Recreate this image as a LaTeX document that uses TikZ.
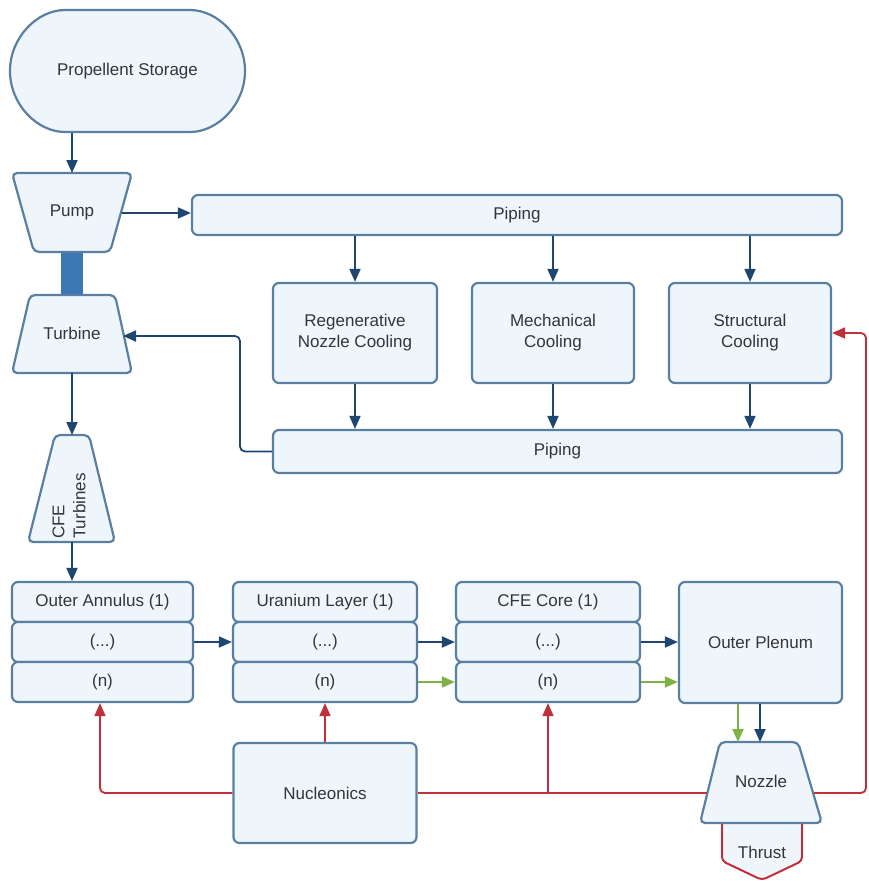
\documentclass[tikz,border=0pt]{standalone}
\usepackage{fontspec}
\setmainfont{Liberation Sans}
\usetikzlibrary{arrows.meta,calc,shapes.misc}
\definecolor{boxfill}{HTML}{EEF6FC}
\definecolor{boxline}{HTML}{5B7FA0}
\definecolor{arrblue}{HTML}{1F4670}
\definecolor{arrred}{HTML}{C0303A}
\definecolor{arrgreen}{HTML}{7DB343}
\definecolor{shaftc}{HTML}{3B78B5}
\definecolor{txt}{HTML}{353535}
\begin{document}
\begin{tikzpicture}[x=1pt,y=-1pt,
  lbl/.style={text=txt,font=\fontsize{17}{21}\selectfont,align=center,inner sep=0pt},
  box/.style={lbl,draw=boxline,fill=boxfill,line width=2.2pt,rounded corners=6pt},
  shapebox/.style={draw=boxline,fill=boxfill,line width=2.2pt,rounded corners=5pt},
  tip/.style={-{Triangle[length=13pt,width=11pt]}},
  arr/.style={draw=arrblue,line width=1.8pt,tip},
  garr/.style={draw=arrgreen,line width=1.8pt,tip},
  rarr/.style={draw=arrred,line width=1.8pt,rounded corners=5pt,tip},
  rline/.style={draw=arrred,line width=1.8pt,rounded corners=5pt},
  bline/.style={draw=arrblue,line width=1.8pt,rounded corners=5pt}
]
\useasboundingbox (0,0) rectangle (868,881);

% Propellent storage
\node[box,rounded rectangle,minimum width=235pt,minimum height=122pt] (storage) at (127.5,71) {Propellent Storage};

% shaft
\fill[shaftc] (61,250) rectangle (83,298);

% Pump
\filldraw[shapebox] (12,173) -- (132,173) -- (110,252) -- (34,252) -- cycle;
\node[lbl] (pump) at (72,212) {Pump};
\coordinate (pumpT) at (72,173);
\coordinate (pumpR) at (122,213);

% Turbine
\filldraw[shapebox] (30,295) -- (115,295) -- (132,373) -- (12,373) -- cycle;
\node[lbl] (turbine) at (72,333) {Turbine};
\coordinate (turbR) at (123,336);
\coordinate (turbB) at (72,373);

% CFE Turbines
\filldraw[shapebox] (55,435) -- (89,435) -- (115,542) -- (28,542) -- cycle;
\node[lbl,rotate=90,align=left] (cfet) at (69,506) {CFE\\Turbines};
\coordinate (cfeT) at (72,435);
\coordinate (cfeB) at (72,542);

% Piping
\node[box,minimum width=650pt,minimum height=40pt] (pip1) at (517,215) {Piping};
\node[box,minimum width=569pt,minimum height=43pt] (pip2) at (557.5,451.5) {Piping};

% Cooling boxes
\node[box,minimum width=164pt,minimum height=100pt] (regen) at (355,333) {Regenerative\\Nozzle Cooling};
\node[box,minimum width=162pt,minimum height=100pt] (mech) at (553,333) {Mechanical\\Cooling};
\node[box,minimum width=162pt,minimum height=100pt] (struct) at (750,333) {Structural\\Cooling};

% Stacks
\node[box,minimum width=181pt,minimum height=40pt] (oa1) at (102.5,602) {Outer Annulus (1)};
\node[box,minimum width=181pt,minimum height=40pt] (oa2) at (102.5,642) {(...)};
\node[box,minimum width=181pt,minimum height=40pt] (oa3) at (102.5,682) {(n)};

\node[box,minimum width=184pt,minimum height=40pt] (ul1) at (325,602) {Uranium Layer (1)};
\node[box,minimum width=184pt,minimum height=40pt] (ul2) at (325,642) {(...)};
\node[box,minimum width=184pt,minimum height=40pt] (ul3) at (325,682) {(n)};

\node[box,minimum width=184pt,minimum height=40pt] (cc1) at (548,602) {CFE Core (1)};
\node[box,minimum width=184pt,minimum height=40pt] (cc2) at (548,642) {(...)};
\node[box,minimum width=184pt,minimum height=40pt] (cc3) at (548,682) {(n)};

\node[box,minimum width=163pt,minimum height=121pt] (plenum) at (760.5,642.5) {Outer Plenum};

% Nucleonics
\node[box,minimum width=183pt,minimum height=100pt] (nuc) at (325,793) {Nucleonics};

% Thrust
\filldraw[draw=arrred,fill=boxfill,line width=2pt,rounded corners=4pt] (722,815) -- (722,861) -- (762,880) -- (802,861) -- (802,815);
\node[lbl] (thrust) at (762,852) {Thrust};

% Nozzle
\filldraw[shapebox] (720,742) -- (798,742) -- (822,823) -- (700,823) -- cycle;
\node[lbl] (nozzle) at (761,781) {Nozzle};
\coordinate (nozL) at (707,793);
\coordinate (nozR) at (814,793);
\coordinate (nozTg) at (738,742);
\coordinate (nozTb) at (760,742);

% Blue connectors
\draw[arr] (storage.south -| pumpT) -- (pumpT);
\draw[arr] (pumpR) -- (pip1.west |- pumpR);
\foreach \n in {regen,mech,struct}{
  \draw[arr] (pip1.south -| \n) -- (\n.north);
  \draw[arr] (\n.south) -- (\n.south |- pip2.north);
}
\draw[bline,tip] (pip2.west) -- (240,451.5) -- (240,336) -- (turbR);
\draw[arr] (turbB) -- (cfeT);
\draw[arr] (cfeB) -- (oa1.north -| cfeB);
\draw[arr] (oa2.east) -- (ul2.west);
\draw[arr] (ul2.east) -- (cc2.west);
\draw[arr] (cc2.east) -- (plenum.west |- cc2);
\draw[garr] (ul3.east) -- (cc3.west);
\draw[garr] (cc3.east) -- (plenum.west |- cc3);
\draw[garr] (plenum.south -| nozTg) -- (nozTg);
\draw[arr] (plenum.south -| nozTb) -- (nozTb);

% Red connectors
\draw[rarr] (nuc.west) -- (100,793) -- (oa3.south -| 100,0);
\draw[rarr] (nuc.north) -- (ul3.south);
\draw[rline] (nuc.east) -- (nozL);
\draw[rarr] (548,793) -- (cc3.south);
\draw[rarr] (nozR) -- (866,793) -- (866,333) -- (struct.east);
\end{tikzpicture}
\end{document}
